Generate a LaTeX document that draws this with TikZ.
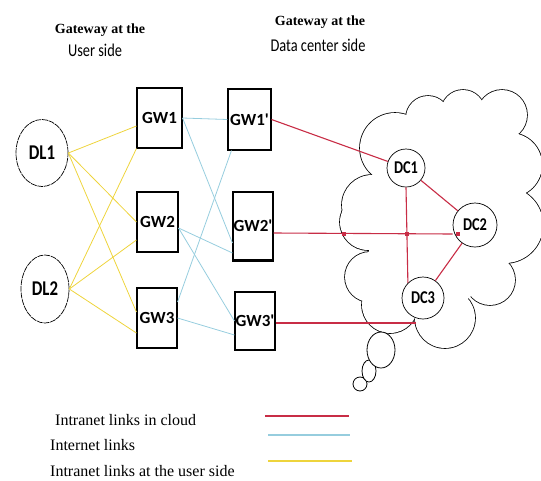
\documentclass[tikz,border=0pt]{standalone}
\usepackage{fontspec}
\setmainfont{Liberation Serif}
\newfontfamily\labelfont{Carlito}
\newfontfamily\narrowfont[FakeStretch=0.8]{Carlito}
\usetikzlibrary{shapes.geometric}
\definecolor{cloudred}{RGB}{200,45,70}
\definecolor{netblue}{RGB}{150,205,222}
\definecolor{useryellow}{RGB}{238,212,60}

\begin{document}
\begin{tikzpicture}
      [x=1pt,y=-1pt,
       every node/.style={font=\labelfont\bfseries\fontsize{17}{17}\selectfont,inner sep=0pt},
       dl/.style={ellipse,draw,dash pattern=on 6pt off 0.8pt,line width=0.7pt,font=\narrowfont\bfseries\fontsize{21}{21}\selectfont},
       gw/.style={rectangle,draw,line width=1.1pt,minimum height=60pt},
       dc/.style={circle,draw,fill=white,line width=0.7pt,font=\narrowfont\bfseries\fontsize{18}{18}\selectfont},
       userlink/.style={useryellow,line width=0.8pt},
       netlink/.style={netblue,line width=0.8pt},
       cloudlink/.style={color=cloudred,line width=1.1pt},
       legend/.style={anchor=west,font=\fontsize{16}{16}\selectfont}]
      \useasboundingbox (0,0) rectangle (541,480);

      \node [font=\bfseries\fontsize{14}{14}\selectfont] (head1) at (100,30) {Gateway at the};
      \node [font=\narrowfont\fontsize{18}{18}\selectfont] (head2) at (95,50) {User side};
      \node [font=\bfseries\fontsize{14}{14}\selectfont] (head3) at (320,22) {Gateway at the};
      \node [font=\narrowfont\fontsize{18}{18}\selectfont] (head4) at (318,45) {Data center side};

      \foreach \cx/\cy/\r in {395/148/35, 428/118/22, 463/112/22, 502/115/25, 510/165/32,
                              505/225/38, 490/280/25, 445/318/30, 390/305/28, 370/277/25,
                              368/222/28, 372/205/30, 440/215/75}
        \draw [line width=1.6pt] (\cx,\cy) circle [radius=\r pt];
      \foreach \cx/\cy/\r in {395/148/35, 428/118/22, 463/112/22, 502/115/25, 510/165/32,
                              505/225/38, 490/280/25, 445/318/30, 390/305/28, 370/277/25,
                              368/222/28, 372/205/30, 440/215/75}
        \fill [white] (\cx,\cy) circle [radius=\r pt];
      \fill [white] (395,148) -- (428,118) -- (463,112) -- (502,115) -- (510,165) -- (505,225)
                    -- (490,280) -- (445,318) -- (390,305) -- (370,277) -- (368,222) -- (372,205) -- cycle;
      \draw [fill=white,line width=0.8pt] (360,384) circle [radius=7pt];
      \draw [fill=white,line width=0.8pt] (369,371) ellipse [x radius=7pt,y radius=11pt];
      \draw [fill=white,line width=0.8pt] (381,350) ellipse [x radius=14pt,y radius=18pt];

      \node [dl,minimum width=52pt,minimum height=67pt] (dl1) at (42,153) {DL1};
      \node [dl,minimum width=48pt,minimum height=68pt] (dl2) at (45,289) {DL2};

      \node [gw,minimum width=45pt] (gw1) at (159.5,118) {GW1};
      \node [gw,minimum width=41pt] (gw2) at (157.5,222) {GW2};
      \node [gw,minimum width=40pt] (gw3) at (157,318) {GW3};
      \node [gw,minimum width=43pt,minimum height=61pt] (gw1p) at (249.5,119.5) {GW1'};
      \node [gw,minimum width=40pt,minimum height=68pt] (gw2p) at (253,226) {GW2'};
      \node [gw,minimum width=40pt,minimum height=58pt] (gw3p) at (255,321) {GW3'};
      \draw [line width=2.6pt] (gw2p.south west) -- (gw2p.south east);

      \node [dc,minimum size=38pt] (dc1) at (406,168) {DC1};
      \node [dc,minimum size=44pt] (dc2) at (475,225) {DC2};
      \node [dc,minimum size=42pt] (dc3) at (423,298) {DC3};
      \coordinate (dc3foot) at (416,323);

      \draw [userlink] (dl1.east) -- ([yshift=-8pt]gw1.west);
      \draw [userlink] (dl1.east) -- (gw2.west);
      \draw [userlink] (dl1.east) -- ([yshift=6pt]gw3.west);
      \draw [userlink] (dl2.east) -- (gw1.south west);
      \draw [userlink] (dl2.east) -- ([yshift=-18pt]gw2.west);
      \draw [userlink] (dl2.east) -- ([yshift=-15pt]gw3.west);

      \draw [netlink] (gw1.east) -- (gw1p.west);
      \draw [netlink] (gw1.east) -- ([yshift=-17pt]gw2p.west);
      \draw [netlink] ([xshift=4pt]gw1p.south west) -- ([yshift=16pt]gw3.east);
      \draw [netlink] ([yshift=-6pt]gw2.east) -- ([yshift=-27pt]gw2p.west);
      \draw [netlink] ([yshift=-6pt]gw2.east) -- (gw3p.west);
      \draw [netlink] (gw3.east) -- ([yshift=-14pt]gw3p.west);

      \draw [cloudlink] (gw1p.east) -- (dc1);
      \draw [cloudlink] (dc1) -- (dc2);
      \draw [cloudlink] ([yshift=-7pt]gw2p.east) -- ([yshift=-9pt]dc2.west);
      \draw [cloudlink] (dc1.south) -- (dc3.north west);
      \draw [cloudlink] (dc3) -- (dc2);
      \draw [cloudlink] ([yshift=-2pt]gw3p.east) -- (dc3foot);
      \foreach \px in {344,407,458}
        \fill [cloudred] (\px,234) +(-2,-2) rectangle +(2,2);

      \node [legend] (leg1) at (55,420) {Intranet links in cloud};
      \node [legend] (leg2) at (50,445) {Internet links};
      \node [legend] (leg3) at (50,471) {Intranet links at the user side};
      \coordinate (red1) at (265,416);
      \coordinate (red2) at (349,416);
      \coordinate (blue1) at (268,435);
      \coordinate (blue2) at (350,435);
      \coordinate (yel1) at (268,461);
      \coordinate (yel2) at (352,461);
      \draw [cloudred,line width=1.3pt] (red1) -- (red2);
      \draw [netblue,line width=1.3pt] (blue1) -- (blue2);
      \draw [useryellow,line width=1.6pt] (yel1) -- (yel2);
    \end{tikzpicture}
\end{document}
